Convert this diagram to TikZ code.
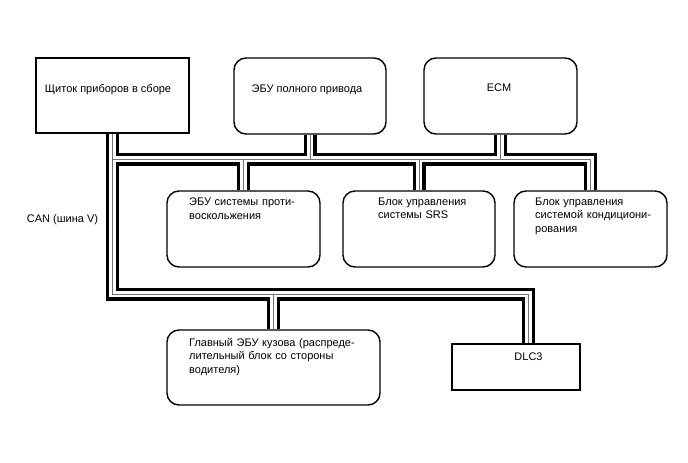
\documentclass[tikz,border=0pt]{standalone}
\usepackage{fontspec}
\setmainfont{Liberation Sans}
\usetikzlibrary{calc}
\newcommand\canbuspaths{
 (b1.south) -- (b1.south |- bb) -- (dlcx |- bb) -- (dlcx)
 (b7.north) -- (b7.north |- bb)
 (b1.south |- tb) -- (b6.north |- tb) -- (b6.north)
 (b2.south) -- (b2.south |- tb)
 (b3.south) -- (b3.south |- tb)
 (b4.north) -- (b4.north |- tb)
 (b5.north) -- (b5.north |- tb)
}
\begin{document}
\begin{tikzpicture}[x=1pt,y=-1pt,
  box/.style={draw=black, line width=1.4pt, fill=white, inner sep=0pt},
  rbox/.style={box, rounded corners=12pt},
  lbl/.style={inner sep=0pt, font=\fontsize{11}{13.5}\selectfont},
  mlbl/.style={lbl, anchor=base west, text width=240pt, align=left},
  busout/.style={line width=13pt, draw=black},
  busin/.style={line width=6.5pt, draw=white},
  buscore/.style={line width=1pt, draw=black!55}]

\fill[white] (0,0) rectangle (688,463);
\useasboundingbox (0,0) rectangle (688,463);

% boxes
\node[box,  minimum width=153pt, minimum height=75pt] (b1) at (112.5,95.5) {};
\node[rbox, minimum width=152pt, minimum height=76pt] (b2) at (310,96) {};
\node[rbox, minimum width=153pt, minimum height=76pt] (b3) at (500.5,96) {};
\node[rbox, minimum width=153pt, minimum height=76pt] (b4) at (243.5,229) {};
\node[rbox, minimum width=152pt, minimum height=76pt] (b5) at (419,229) {};
\node[rbox, minimum width=153pt, minimum height=76pt] (b6) at (590.5,229) {};
\node[rbox, minimum width=213pt, minimum height=75pt] (b7) at (273.5,367.5) {};
\node[box,  minimum width=128pt, minimum height=46pt] (dlc) at (516,367) {};

% bus reference coordinates
\coordinate (tb) at (0,159);
\coordinate (bb) at (0,294);
\coordinate (dlcx) at ($(dlc.north)+(12.5,0)$);

% CAN bus (twisted pair look)
\foreach \s in {busout,busin,buscore}{\draw[\s] \canbuspaths;}

% labels
\node[lbl, anchor=base] (t1) at (108,92) {Щиток приборов в сборе};
\node[lbl, anchor=base] (t2) at (307,92) {ЭБУ полного привода};
\node[lbl, anchor=base] (t3) at (499,91.5) {ECM};
\node[mlbl] (t4) at (189,205.5) {ЭБУ системы проти-\\воскольжения};
\node[mlbl] (t5) at (378,205) {Блок управления\\системы SRS};
\node[mlbl] (t6) at (535,205) {Блок управления\\системой кондициони-\\рования};
\node[mlbl] (t7) at (189,346) {Главный ЭБУ кузова (распреде-\\лительный блок со стороны\\водителя)};
\node[lbl, anchor=base] (t8) at (528.5,360) {DLC3};
\node[lbl, anchor=base] (can) at (62.5,222) {CAN (шина V)};
\end{tikzpicture}
\end{document}
